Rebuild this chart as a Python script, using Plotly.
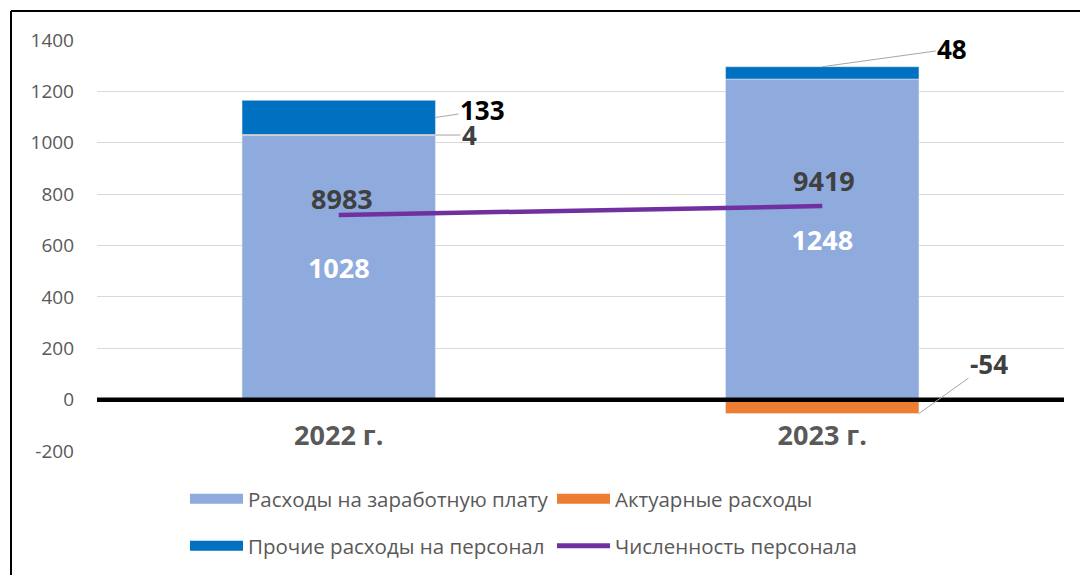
import plotly.graph_objects as go

years = ["2022 г.", "2023 г."]
salary = [1028, 1248]
actuarial = [4, -54]
other = [133, 48]
headcount = [8983, 9419]

names = ["Расходы на заработную плату", "Актуарные расходы",
         "Прочие расходы на персонал", "Численность персонала"]
colors = ["#8FAADC", "#ED7D31", "#0070C0", "#7030A0"]
y_ticks = [-200, 0, 200, 400, 600, 800, 1000, 1200, 1400]

FONT = "Open Sans"
W, H = 1080, 575
L, R, T, B = 97, 16, 40, 124
pw, ph = W - L - R, H - T - B
y_rng = [-200, 1400]
bw = 0.4

fig = go.Figure()
fig.add_trace(go.Bar(x=years, y=salary, name=names[0], marker_color=colors[0],
                     width=bw, text=salary, textposition="inside",
                     insidetextanchor="middle",
                     textfont=dict(family=FONT, size=27, color="white", weight="bold"),
                     showlegend=False))
fig.add_trace(go.Bar(x=years, y=actuarial, name=names[1], marker_color=colors[1],
                     width=bw, textposition="none", showlegend=False))
fig.add_trace(go.Bar(x=years, y=other, name=names[2], marker_color=colors[2],
                     width=bw, textposition="none", showlegend=False))
fig.add_trace(go.Scatter(x=years, y=headcount, name=names[3], mode="lines",
                         line=dict(color=colors[3], width=4.5), yaxis="y2",
                         showlegend=False))

# legend entries (wide swatches like the original)
for i, lg in enumerate(["legend", "legend", "legend2", "legend2"]):
    lw = 5 if i == 3 else 14
    fig.add_trace(go.Scatter(x=[None], y=[None], mode="lines", name=names[i],
                             line=dict(color=colors[i], width=lw), legend=lg,
                             hoverinfo="skip"))

# data labels with leader lines
def lab(color):
    return dict(font=dict(family=FONT, size=26, weight="bold", color=color),
                showarrow=True, arrowhead=0, arrowwidth=1,
                arrowcolor="#A6A6A6", standoff=0)

fig.add_annotation(x=0 + bw / 2, y=salary[0] + actuarial[0] + other[0] / 2,
                   text=str(other[0]), ax=47, ay=-7, **lab("black"))
fig.add_annotation(x=0 + bw / 2, y=salary[0] + actuarial[0] / 2,
                   text=str(actuarial[0]), ax=34, ay=0, **lab("#404040"))
fig.add_annotation(x=1, y=salary[1] + other[1],
                   text=str(other[1]), ax=130, ay=-18, **lab("black"))
fig.add_annotation(x=1 + bw / 2, y=actuarial[1],
                   text=str(actuarial[1]), ax=70, ay=-50, **lab("#404040"))
for i, (xs, ys) in enumerate([(3, 17), (2, 26)]):
    fig.add_annotation(x=i, y=headcount[i], yref="y2", text=str(headcount[i]),
                       showarrow=False, xshift=xs, yshift=ys,
                       font=dict(family=FONT, size=27, color="#404040", weight="bold"))

# zero line over the bars
fig.add_shape(type="line", xref="paper", yref="y", x0=0, x1=1, y0=0, y1=0,
              line=dict(color="black", width=4.5), layer="above")
# chart frame (left and top edges)
fx = (11 - L) / pw
fy_top = (H - B - 11) / ph
fy_bot = (H - B - H) / ph
fig.add_shape(type="line", xref="paper", yref="paper", x0=fx, x1=fx, y0=fy_bot, y1=fy_top,
              line=dict(color="black", width=2))
fig.add_shape(type="line", xref="paper", yref="paper", x0=fx, x1=(W - L + 5) / pw, y0=fy_top, y1=fy_top,
              line=dict(color="black", width=2))

zero_pos = (0 - y_rng[0]) / (y_rng[1] - y_rng[0])
leg = dict(orientation="h", x=(185 - L) / pw, xanchor="left", yanchor="top",
           itemwidth=53, entrywidth=299, font=dict(size=20.5, color="#595959"),
           bgcolor="rgba(0,0,0,0)")
fig.update_layout(
    width=W, height=H, barmode="relative",
    margin=dict(l=L, r=R, t=T, b=B, autoexpand=False),
    plot_bgcolor="white", paper_bgcolor="white",
    font=dict(family=FONT, color="#595959"),
    xaxis=dict(anchor="free", position=zero_pos, showgrid=False, showline=False,
               ticks="outside", ticklen=12, tickcolor="rgba(0,0,0,0)",
               tickfont=dict(size=27, color="#595959", weight="bold"),
               range=[-0.5, 1.5]),
    yaxis=dict(range=y_rng, tickvals=y_ticks, ticktext=[str(v) for v in y_ticks],
               gridcolor="#D9D9D9", gridwidth=1,
               zeroline=False, showline=False, ticklabelstandoff=22,
               tickfont=dict(size=19, color="#595959")),
    yaxis2=dict(overlaying="y", range=[-2500, 17500], visible=False),
    legend={**leg, "y": (H - B - 479) / ph},
    legend2={**leg, "y": (H - B - 526) / ph},
)
fig.write_html("out.html", config={"displayModeBar": False},
               post_script="document.body.style.margin='0';")
